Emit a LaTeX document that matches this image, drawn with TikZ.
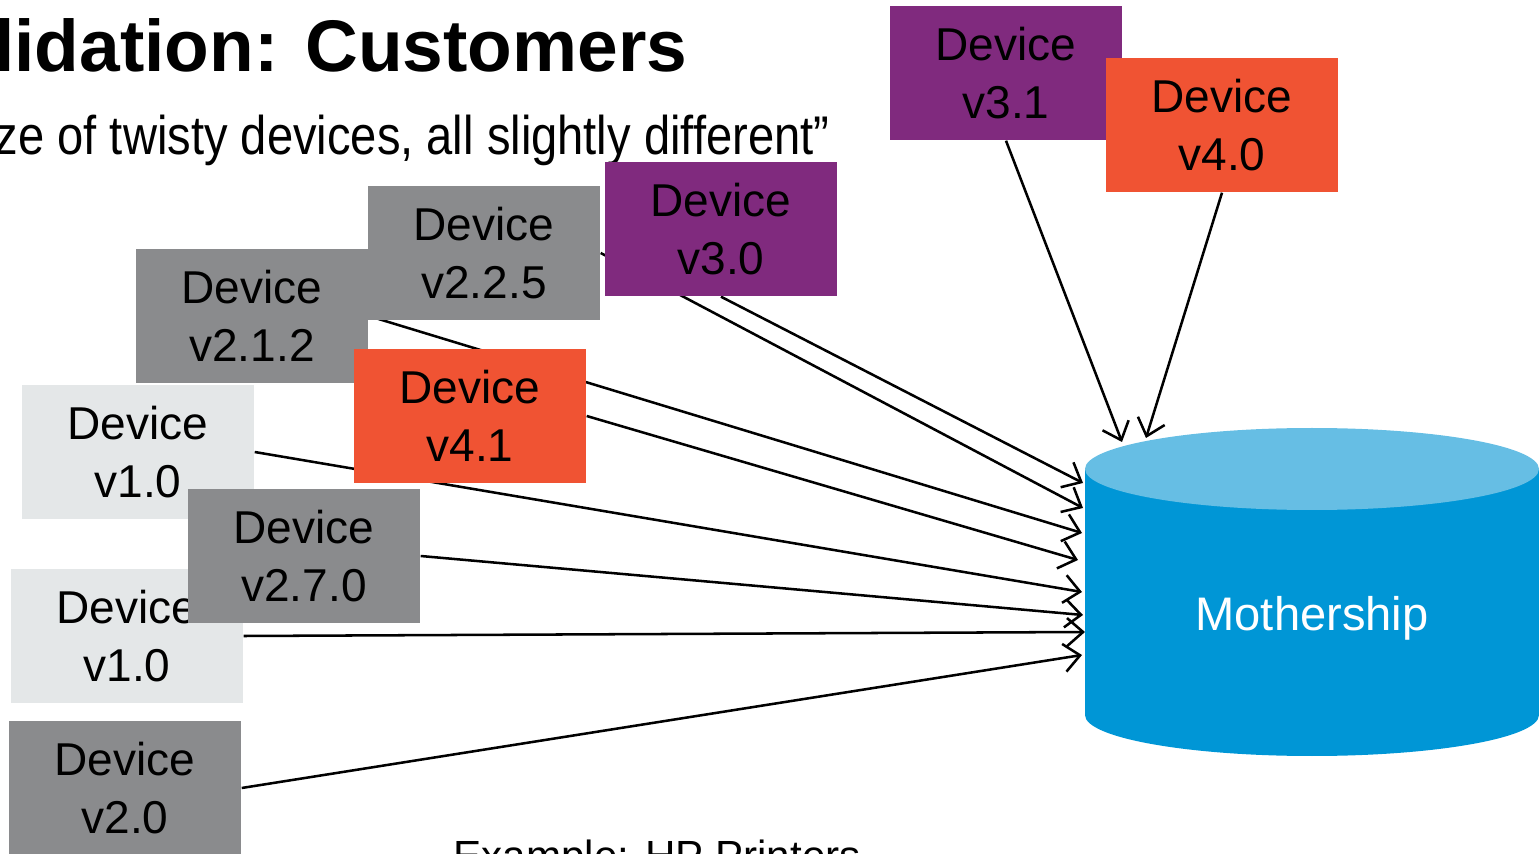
\documentclass[tikz,border=0pt]{standalone}
\usepackage{fontspec}
\setmainfont{Liberation Sans}
\usetikzlibrary{arrows.meta}
\pgfdeclarelayer{background}
\pgfsetlayers{background,main}
\definecolor{devgray}{RGB}{138,139,141}
\definecolor{devlight}{RGB}{228,231,232}
\definecolor{devpurple}{RGB}{128,42,126}
\definecolor{devorange}{RGB}{240,83,51}
\definecolor{mbody}{RGB}{0,150,214}
\definecolor{mtop}{RGB}{102,190,228}
\tikzset{
	device/.style={minimum width=23.2mm, minimum height=13.4mm, inner sep=0pt, align=center, font=\fontsize{13.1}{16.5}\selectfont},
	feed/.style={-{Straight Barb[length=1.6mm,width=2.8mm]}, line width=0.72pt},
}

\begin{document}
\begin{tikzpicture}[x=0.1mm, y=-0.1mm]
	\useasboundingbox (0,0) rectangle (1539,854);
	\node[anchor=base east, font=\bfseries\fontsize{20.8}{25}\selectfont, inner sep=0pt] (title) at (688,72) {lidation: Customers};
	\node[anchor=base east, font=\fontsize{15.5}{18}\selectfont, inner sep=0pt] (sub) at (830,155) {\scalebox{0.865}[1]{ze of twisty devices, all slightly different”}};
	\node[anchor=base west, font=\fontsize{12}{14}\selectfont, inner sep=0pt] (ex) at (453,870) {Example: HP Printers};
	% mothership
	\fill[mbody] (1085,469) -- (1085,715) arc[start angle=180, end angle=0, x radius=227, y radius=41] -- (1539,469) -- cycle;
	\fill[mtop] (1312,469) ellipse[x radius=227, y radius=41];
	\node[anchor=base, text=white, font=\fontsize{13.4}{16}\selectfont] (ms) at (1312,630) {Mothership};
	\foreach \x/\y [count=\i] in {1083/483,1083/508,1082/533,1078/560,1082/592,1083/615,1085/632,1082/655}
		\coordinate (in\i) at (\x,\y);
	\coordinate (tp1) at (1122,442);
	\coordinate (tp2) at (1146,438);
	% devices
	\node[device, fill=devpurple] (d31) at (1006,73) {Device\\v3.1};
	\node[device, fill=devorange] (d40) at (1222,125) {Device\\v4.0};
	\node[device, fill=devpurple] (d30) at (721,229) {Device\\v3.0};
	\node[device, fill=devgray] (d225) at (484,253) {Device\\v2.2.5};
	\node[device, fill=devgray] (d212) at (252,316) {Device\\v2.1.2};
	\node[device, fill=devorange] (d41) at (470,416) {Device\\v4.1};
	\node[device, fill=devlight] (d10a) at (138,452) {Device\\v1.0};
	\node[device, fill=devlight] (d10b) at (127,636) {Device\\v1.0};
	\node[device, fill=devgray] (d270) at (304,556) {Device\\v2.7.0};
	\node[device, fill=devgray] (d20) at (125,788) {Device\\v2.0};
	\begin{pgfonlayer}{background}
		\draw[feed] (d30.south) -- (in1);
		\foreach \src/\dst in {d225/in2, d212/in3, d41/in4, d10a/in5, d270/in6, d10b/in7, d20/in8}
			\draw[feed] (\src.east) -- (\dst);
		\draw[feed] (d31.south) -- (tp1);
		\draw[feed] (d40.south) -- (tp2);
	\end{pgfonlayer}
\end{tikzpicture}
\end{document}
